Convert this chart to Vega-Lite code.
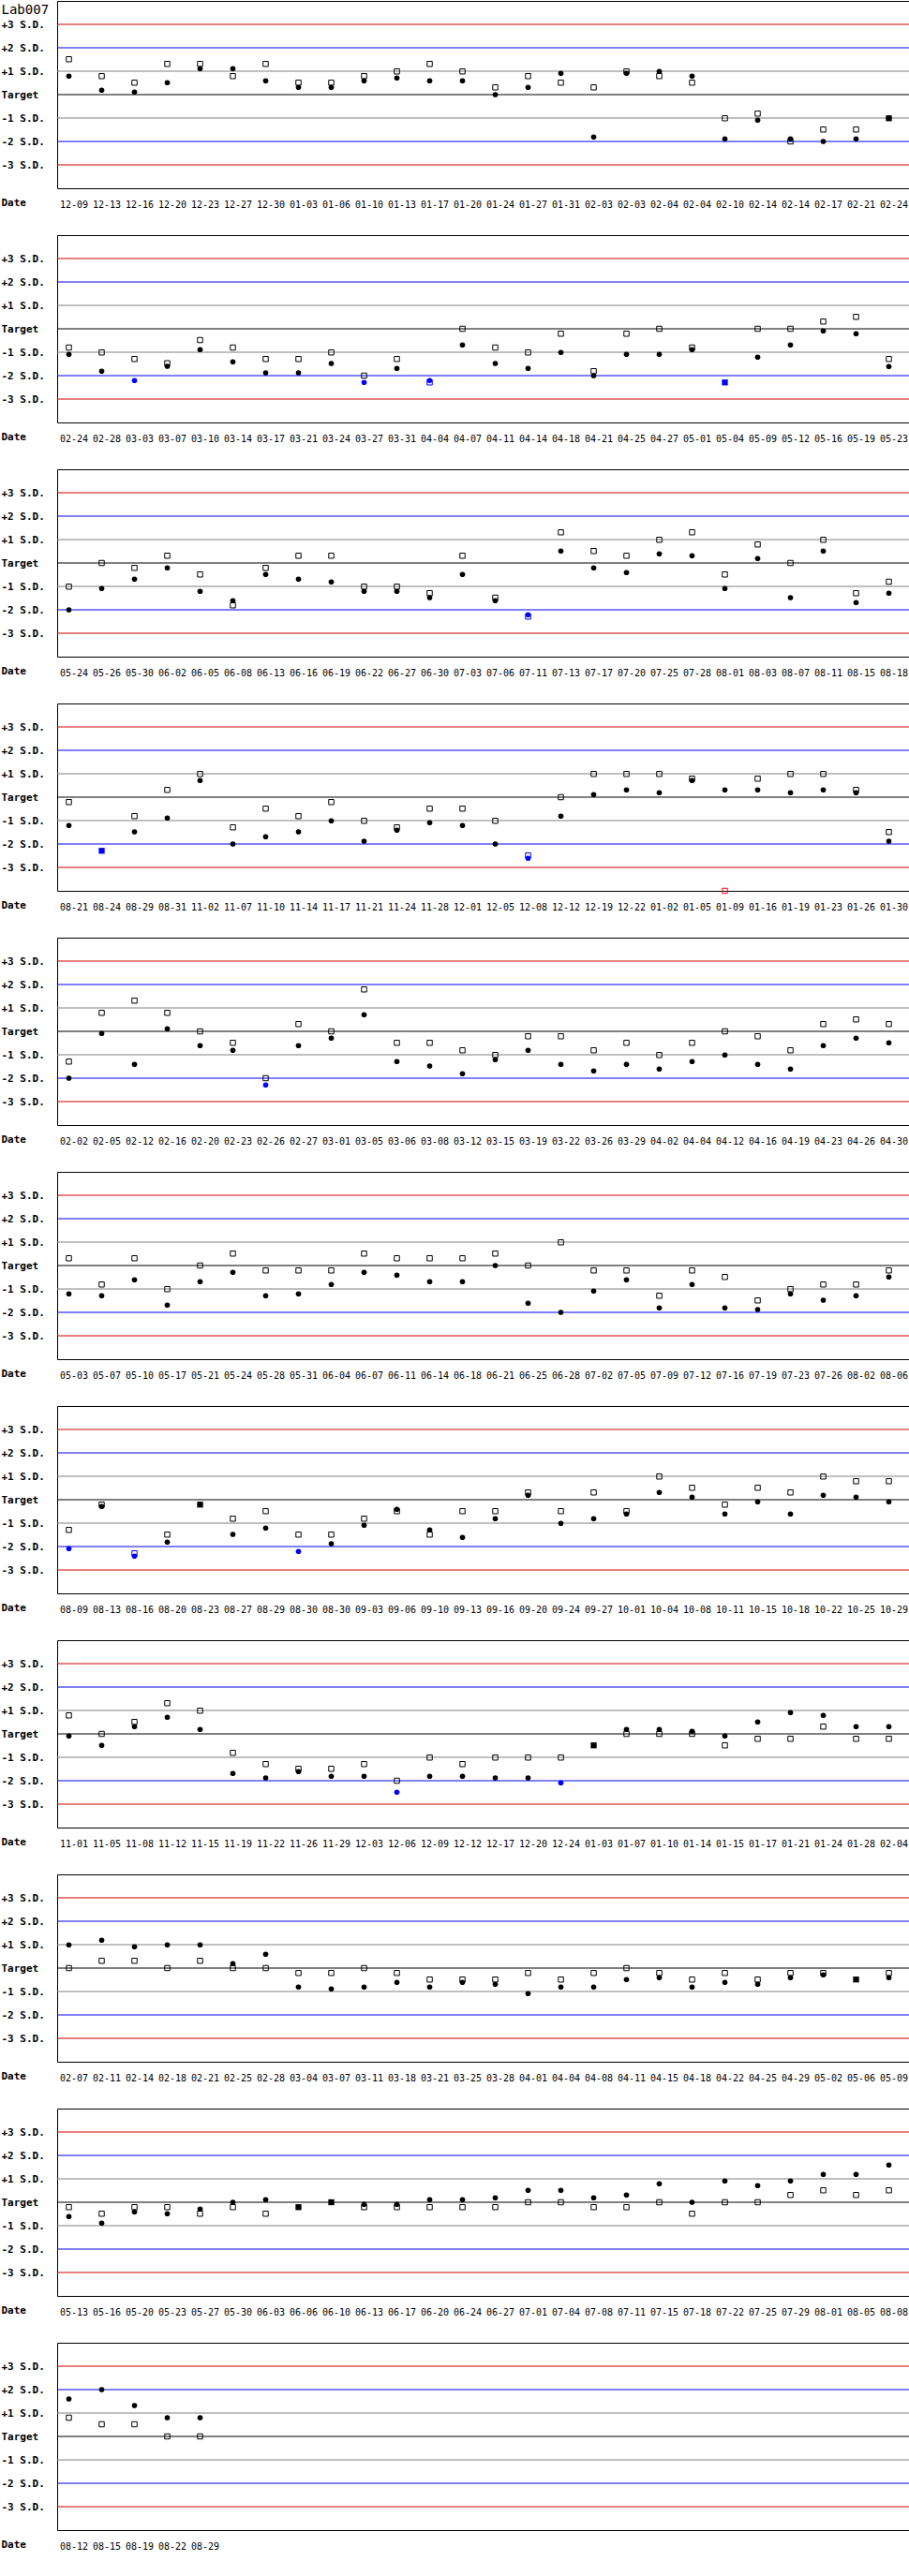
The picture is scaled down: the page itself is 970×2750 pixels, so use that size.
{
  "$schema": "https://vega.github.io/schema/vega-lite/v6.json",
  "background": "white",
  "padding": 0,
  "bounds": "flush",
  "spacing": 50,
  "config": {
    "view": {"stroke": "black", "strokeWidth": 1},
    "axisX": {
      "domain": false, "ticks": false, "tickSize": 0, "grid": false,
      "labelAngle": 0, "labelFont": "DejaVu Sans Mono", "labelFontSize": 10, "labelColor": "black",
      "labelPadding": 17, "labelBaseline": "middle", "labelOffset": 5, "labelOverlap": false,
      "titleX": -60, "titleY": 15, "titleAlign": "left", "titleBaseline": "middle",
      "titleFont": "DejaVu Sans Mono", "titleFontSize": 11, "titleFontWeight": "bold", "titleColor": "black"
    },
    "axisY": {
      "domain": false, "ticks": false, "tickSize": 0, "grid": false,
      "labelAlign": "left", "labelBaseline": "middle", "labelPadding": 60, "labelOverlap": false,
      "labelFont": "DejaVu Sans Mono", "labelFontSize": 11, "labelFontWeight": "bold", "labelColor": "black",
      "titleAngle": 0, "titleX": -60, "titleY": 2, "titleAlign": "left", "titleBaseline": "top",
      "titleFont": "DejaVu Sans Mono", "titleFontSize": 14, "titleFontWeight": "normal", "titleColor": "black"
    }
  },
  "datasets": {
    "levels": [{"sd": 3}, {"sd": 2}, {"sd": 1}, {"sd": 0}, {"sd": -1}, {"sd": -2}, {"sd": -3}],
    "qc": [
      {"p": 1, "i": 0, "d": "12-09", "s": "a", "v": 0.79}, {"p": 1, "i": 0, "d": "12-09", "s": "b", "v": 1.51},
      {"p": 1, "i": 1, "d": "12-13", "s": "a", "v": 0.19}, {"p": 1, "i": 1, "d": "12-13", "s": "b", "v": 0.79},
      {"p": 1, "i": 2, "d": "12-16", "s": "a", "v": 0.11}, {"p": 1, "i": 2, "d": "12-16", "s": "b", "v": 0.51},
      {"p": 1, "i": 3, "d": "12-20", "s": "a", "v": 0.51}, {"p": 1, "i": 3, "d": "12-20", "s": "b", "v": 1.31},
      {"p": 1, "i": 4, "d": "12-23", "s": "a", "v": 1.11}, {"p": 1, "i": 4, "d": "12-23", "s": "b", "v": 1.31},
      {"p": 1, "i": 5, "d": "12-27", "s": "a", "v": 1.11}, {"p": 1, "i": 5, "d": "12-27", "s": "b", "v": 0.79},
      {"p": 1, "i": 6, "d": "12-30", "s": "a", "v": 0.59}, {"p": 1, "i": 6, "d": "12-30", "s": "b", "v": 1.31},
      {"p": 1, "i": 7, "d": "01-03", "s": "a", "v": 0.31}, {"p": 1, "i": 7, "d": "01-03", "s": "b", "v": 0.51},
      {"p": 1, "i": 8, "d": "01-06", "s": "a", "v": 0.31}, {"p": 1, "i": 8, "d": "01-06", "s": "b", "v": 0.51},
      {"p": 1, "i": 9, "d": "01-10", "s": "a", "v": 0.59}, {"p": 1, "i": 9, "d": "01-10", "s": "b", "v": 0.79},
      {"p": 1, "i": 10, "d": "01-13", "s": "a", "v": 0.71}, {"p": 1, "i": 10, "d": "01-13", "s": "b", "v": 0.99},
      {"p": 1, "i": 11, "d": "01-17", "s": "a", "v": 0.59}, {"p": 1, "i": 11, "d": "01-17", "s": "b", "v": 1.31},
      {"p": 1, "i": 12, "d": "01-20", "s": "a", "v": 0.59}, {"p": 1, "i": 12, "d": "01-20", "s": "b", "v": 0.99},
      {"p": 1, "i": 13, "d": "01-24", "s": "a", "v": 0}, {"p": 1, "i": 13, "d": "01-24", "s": "b", "v": 0.31},
      {"p": 1, "i": 14, "d": "01-27", "s": "a", "v": 0.31}, {"p": 1, "i": 14, "d": "01-27", "s": "b", "v": 0.79},
      {"p": 1, "i": 15, "d": "01-31", "s": "a", "v": 0.91}, {"p": 1, "i": 15, "d": "01-31", "s": "b", "v": 0.51},
      {"p": 1, "i": 16, "d": "02-03", "s": "a", "v": -1.81}, {"p": 1, "i": 16, "d": "02-03", "s": "b", "v": 0.31},
      {"p": 1, "i": 17, "d": "02-03", "s": "a", "v": 0.91}, {"p": 1, "i": 17, "d": "02-03", "s": "b", "v": 0.99},
      {"p": 1, "i": 18, "d": "02-04", "s": "a", "v": 0.99}, {"p": 1, "i": 18, "d": "02-04", "s": "b", "v": 0.79},
      {"p": 1, "i": 19, "d": "02-04", "s": "a", "v": 0.79}, {"p": 1, "i": 19, "d": "02-04", "s": "b", "v": 0.51},
      {"p": 1, "i": 20, "d": "02-10", "s": "a", "v": -1.89}, {"p": 1, "i": 20, "d": "02-10", "s": "b", "v": -1.01},
      {"p": 1, "i": 21, "d": "02-14", "s": "a", "v": -1.09}, {"p": 1, "i": 21, "d": "02-14", "s": "b", "v": -0.81},
      {"p": 1, "i": 22, "d": "02-14", "s": "a", "v": -1.89}, {"p": 1, "i": 22, "d": "02-14", "s": "b", "v": -2.0},
      {"p": 1, "i": 23, "d": "02-17", "s": "a", "v": -2.0}, {"p": 1, "i": 23, "d": "02-17", "s": "b", "v": -1.49},
      {"p": 1, "i": 24, "d": "02-21", "s": "a", "v": -1.89}, {"p": 1, "i": 24, "d": "02-21", "s": "b", "v": -1.49},
      {"p": 1, "i": 25, "d": "02-24", "s": "c", "v": -1.01},

      {"p": 2, "i": 0, "d": "02-24", "s": "a", "v": -1.09}, {"p": 2, "i": 0, "d": "02-24", "s": "b", "v": -0.8},
      {"p": 2, "i": 1, "d": "02-28", "s": "a", "v": -1.81}, {"p": 2, "i": 1, "d": "02-28", "s": "b", "v": -1.01},
      {"p": 2, "i": 2, "d": "03-03", "s": "a", "v": -2.21}, {"p": 2, "i": 2, "d": "03-03", "s": "b", "v": -1.29},
      {"p": 2, "i": 3, "d": "03-07", "s": "a", "v": -1.6}, {"p": 2, "i": 3, "d": "03-07", "s": "b", "v": -1.47},
      {"p": 2, "i": 4, "d": "03-10", "s": "a", "v": -0.89}, {"p": 2, "i": 4, "d": "03-10", "s": "b", "v": -0.48},
      {"p": 2, "i": 5, "d": "03-14", "s": "a", "v": -1.41}, {"p": 2, "i": 5, "d": "03-14", "s": "b", "v": -0.8},
      {"p": 2, "i": 6, "d": "03-17", "s": "a", "v": -1.88}, {"p": 2, "i": 6, "d": "03-17", "s": "b", "v": -1.29},
      {"p": 2, "i": 7, "d": "03-21", "s": "a", "v": -1.88}, {"p": 2, "i": 7, "d": "03-21", "s": "b", "v": -1.29},
      {"p": 2, "i": 8, "d": "03-24", "s": "a", "v": -1.48}, {"p": 2, "i": 8, "d": "03-24", "s": "b", "v": -1.01},
      {"p": 2, "i": 9, "d": "03-27", "s": "a", "v": -2.29}, {"p": 2, "i": 9, "d": "03-27", "s": "b", "v": -2.0},
      {"p": 2, "i": 10, "d": "03-31", "s": "a", "v": -1.69}, {"p": 2, "i": 10, "d": "03-31", "s": "b", "v": -1.29},
      {"p": 2, "i": 11, "d": "04-04", "s": "a", "v": -2.21}, {"p": 2, "i": 11, "d": "04-04", "s": "b", "v": -2.29},
      {"p": 2, "i": 12, "d": "04-07", "s": "a", "v": -0.69}, {"p": 2, "i": 12, "d": "04-07", "s": "b", "v": 0},
      {"p": 2, "i": 13, "d": "04-11", "s": "a", "v": -1.48}, {"p": 2, "i": 13, "d": "04-11", "s": "b", "v": -0.8},
      {"p": 2, "i": 14, "d": "04-14", "s": "a", "v": -1.69}, {"p": 2, "i": 14, "d": "04-14", "s": "b", "v": -1.01},
      {"p": 2, "i": 15, "d": "04-18", "s": "a", "v": -1.01}, {"p": 2, "i": 15, "d": "04-18", "s": "b", "v": -0.21},
      {"p": 2, "i": 16, "d": "04-21", "s": "a", "v": -2.0}, {"p": 2, "i": 16, "d": "04-21", "s": "b", "v": -1.81},
      {"p": 2, "i": 17, "d": "04-25", "s": "a", "v": -1.09}, {"p": 2, "i": 17, "d": "04-25", "s": "b", "v": -0.21},
      {"p": 2, "i": 18, "d": "04-27", "s": "a", "v": -1.09}, {"p": 2, "i": 18, "d": "04-27", "s": "b", "v": 0},
      {"p": 2, "i": 19, "d": "05-01", "s": "a", "v": -0.89}, {"p": 2, "i": 19, "d": "05-01", "s": "b", "v": -0.8},
      {"p": 2, "i": 20, "d": "05-04", "s": "c", "v": -2.29},
      {"p": 2, "i": 21, "d": "05-09", "s": "a", "v": -1.21}, {"p": 2, "i": 21, "d": "05-09", "s": "b", "v": 0},
      {"p": 2, "i": 22, "d": "05-12", "s": "a", "v": -0.69}, {"p": 2, "i": 22, "d": "05-12", "s": "b", "v": 0},
      {"p": 2, "i": 23, "d": "05-16", "s": "a", "v": -0.09}, {"p": 2, "i": 23, "d": "05-16", "s": "b", "v": 0.31},
      {"p": 2, "i": 24, "d": "05-19", "s": "a", "v": -0.21}, {"p": 2, "i": 24, "d": "05-19", "s": "b", "v": 0.51},
      {"p": 2, "i": 25, "d": "05-23", "s": "a", "v": -1.61}, {"p": 2, "i": 25, "d": "05-23", "s": "b", "v": -1.29},

      {"p": 3, "i": 0, "d": "05-24", "s": "a", "v": -2.0}, {"p": 3, "i": 0, "d": "05-24", "s": "b", "v": -1.01},
      {"p": 3, "i": 1, "d": "05-26", "s": "a", "v": -1.09}, {"p": 3, "i": 1, "d": "05-26", "s": "b", "v": 0},
      {"p": 3, "i": 2, "d": "05-30", "s": "a", "v": -0.69}, {"p": 3, "i": 2, "d": "05-30", "s": "b", "v": -0.21},
      {"p": 3, "i": 3, "d": "06-02", "s": "a", "v": -0.21}, {"p": 3, "i": 3, "d": "06-02", "s": "b", "v": 0.31},
      {"p": 3, "i": 4, "d": "06-05", "s": "a", "v": -1.21}, {"p": 3, "i": 4, "d": "06-05", "s": "b", "v": -0.49},
      {"p": 3, "i": 5, "d": "06-08", "s": "a", "v": -1.61}, {"p": 3, "i": 5, "d": "06-08", "s": "b", "v": -1.81},
      {"p": 3, "i": 6, "d": "06-13", "s": "a", "v": -0.49}, {"p": 3, "i": 6, "d": "06-13", "s": "b", "v": -0.21},
      {"p": 3, "i": 7, "d": "06-16", "s": "a", "v": -0.69}, {"p": 3, "i": 7, "d": "06-16", "s": "b", "v": 0.31},
      {"p": 3, "i": 8, "d": "06-19", "s": "a", "v": -0.81}, {"p": 3, "i": 8, "d": "06-19", "s": "b", "v": 0.31},
      {"p": 3, "i": 9, "d": "06-22", "s": "a", "v": -1.21}, {"p": 3, "i": 9, "d": "06-22", "s": "b", "v": -1.01},
      {"p": 3, "i": 10, "d": "06-27", "s": "a", "v": -1.21}, {"p": 3, "i": 10, "d": "06-27", "s": "b", "v": -1.01},
      {"p": 3, "i": 11, "d": "06-30", "s": "a", "v": -1.48}, {"p": 3, "i": 11, "d": "06-30", "s": "b", "v": -1.29},
      {"p": 3, "i": 12, "d": "07-03", "s": "a", "v": -0.49}, {"p": 3, "i": 12, "d": "07-03", "s": "b", "v": 0.31},
      {"p": 3, "i": 13, "d": "07-06", "s": "a", "v": -1.61}, {"p": 3, "i": 13, "d": "07-06", "s": "b", "v": -1.48},
      {"p": 3, "i": 14, "d": "07-11", "s": "a", "v": -2.21}, {"p": 3, "i": 14, "d": "07-11", "s": "b", "v": -2.29},
      {"p": 3, "i": 15, "d": "07-13", "s": "a", "v": 0.51}, {"p": 3, "i": 15, "d": "07-13", "s": "b", "v": 1.31},
      {"p": 3, "i": 16, "d": "07-17", "s": "a", "v": -0.21}, {"p": 3, "i": 16, "d": "07-17", "s": "b", "v": 0.51},
      {"p": 3, "i": 17, "d": "07-20", "s": "a", "v": -0.41}, {"p": 3, "i": 17, "d": "07-20", "s": "b", "v": 0.31},
      {"p": 3, "i": 18, "d": "07-25", "s": "a", "v": 0.39}, {"p": 3, "i": 18, "d": "07-25", "s": "b", "v": 0.99},
      {"p": 3, "i": 19, "d": "07-28", "s": "a", "v": 0.31}, {"p": 3, "i": 19, "d": "07-28", "s": "b", "v": 1.31},
      {"p": 3, "i": 20, "d": "08-01", "s": "a", "v": -1.09}, {"p": 3, "i": 20, "d": "08-01", "s": "b", "v": -0.49},
      {"p": 3, "i": 21, "d": "08-03", "s": "a", "v": 0.19}, {"p": 3, "i": 21, "d": "08-03", "s": "b", "v": 0.79},
      {"p": 3, "i": 22, "d": "08-07", "s": "a", "v": -1.48}, {"p": 3, "i": 22, "d": "08-07", "s": "b", "v": 0},
      {"p": 3, "i": 23, "d": "08-11", "s": "a", "v": 0.51}, {"p": 3, "i": 23, "d": "08-11", "s": "b", "v": 0.99},
      {"p": 3, "i": 24, "d": "08-15", "s": "a", "v": -1.69}, {"p": 3, "i": 24, "d": "08-15", "s": "b", "v": -1.29},
      {"p": 3, "i": 25, "d": "08-18", "s": "a", "v": -1.29}, {"p": 3, "i": 25, "d": "08-18", "s": "b", "v": -0.8},

      {"p": 4, "i": 0, "d": "08-21", "s": "a", "v": -1.21}, {"p": 4, "i": 0, "d": "08-21", "s": "b", "v": -0.21},
      {"p": 4, "i": 1, "d": "08-24", "s": "c", "v": -2.29},
      {"p": 4, "i": 2, "d": "08-29", "s": "a", "v": -1.48}, {"p": 4, "i": 2, "d": "08-29", "s": "b", "v": -0.81},
      {"p": 4, "i": 3, "d": "08-31", "s": "a", "v": -0.89}, {"p": 4, "i": 3, "d": "08-31", "s": "b", "v": 0.31},
      {"p": 4, "i": 4, "d": "11-02", "s": "a", "v": 0.71}, {"p": 4, "i": 4, "d": "11-02", "s": "b", "v": 0.99},
      {"p": 4, "i": 5, "d": "11-07", "s": "a", "v": -2.0}, {"p": 4, "i": 5, "d": "11-07", "s": "b", "v": -1.29},
      {"p": 4, "i": 6, "d": "11-10", "s": "a", "v": -1.69}, {"p": 4, "i": 6, "d": "11-10", "s": "b", "v": -0.49},
      {"p": 4, "i": 7, "d": "11-14", "s": "a", "v": -1.48}, {"p": 4, "i": 7, "d": "11-14", "s": "b", "v": -0.81},
      {"p": 4, "i": 8, "d": "11-17", "s": "a", "v": -1.01}, {"p": 4, "i": 8, "d": "11-17", "s": "b", "v": -0.21},
      {"p": 4, "i": 9, "d": "11-21", "s": "a", "v": -1.88}, {"p": 4, "i": 9, "d": "11-21", "s": "b", "v": -1.01},
      {"p": 4, "i": 10, "d": "11-24", "s": "a", "v": -1.41}, {"p": 4, "i": 10, "d": "11-24", "s": "b", "v": -1.29},
      {"p": 4, "i": 11, "d": "11-28", "s": "a", "v": -1.09}, {"p": 4, "i": 11, "d": "11-28", "s": "b", "v": -0.49},
      {"p": 4, "i": 12, "d": "12-01", "s": "a", "v": -1.21}, {"p": 4, "i": 12, "d": "12-01", "s": "b", "v": -0.49},
      {"p": 4, "i": 13, "d": "12-05", "s": "a", "v": -2.0}, {"p": 4, "i": 13, "d": "12-05", "s": "b", "v": -1.01},
      {"p": 4, "i": 14, "d": "12-08", "s": "a", "v": -2.61}, {"p": 4, "i": 14, "d": "12-08", "s": "b", "v": -2.49},
      {"p": 4, "i": 15, "d": "12-12", "s": "a", "v": -0.81}, {"p": 4, "i": 15, "d": "12-12", "s": "b", "v": 0},
      {"p": 4, "i": 16, "d": "12-19", "s": "a", "v": 0.11}, {"p": 4, "i": 16, "d": "12-19", "s": "b", "v": 0.99},
      {"p": 4, "i": 17, "d": "12-22", "s": "a", "v": 0.31}, {"p": 4, "i": 17, "d": "12-22", "s": "b", "v": 0.99},
      {"p": 4, "i": 18, "d": "01-02", "s": "a", "v": 0.19}, {"p": 4, "i": 18, "d": "01-02", "s": "b", "v": 0.99},
      {"p": 4, "i": 19, "d": "01-05", "s": "a", "v": 0.71}, {"p": 4, "i": 19, "d": "01-05", "s": "b", "v": 0.79},
      {"p": 4, "i": 20, "d": "01-09", "s": "a", "v": 0.31}, {"p": 4, "i": 20, "d": "01-09", "s": "b", "v": -4.0},
      {"p": 4, "i": 21, "d": "01-16", "s": "a", "v": 0.31}, {"p": 4, "i": 21, "d": "01-16", "s": "b", "v": 0.79},
      {"p": 4, "i": 22, "d": "01-19", "s": "a", "v": 0.19}, {"p": 4, "i": 22, "d": "01-19", "s": "b", "v": 0.99},
      {"p": 4, "i": 23, "d": "01-23", "s": "a", "v": 0.31}, {"p": 4, "i": 23, "d": "01-23", "s": "b", "v": 0.99},
      {"p": 4, "i": 24, "d": "01-26", "s": "a", "v": 0.19}, {"p": 4, "i": 24, "d": "01-26", "s": "b", "v": 0.31},
      {"p": 4, "i": 25, "d": "01-30", "s": "a", "v": -1.88}, {"p": 4, "i": 25, "d": "01-30", "s": "b", "v": -1.49},

      {"p": 5, "i": 0, "d": "02-02", "s": "a", "v": -2.0}, {"p": 5, "i": 0, "d": "02-02", "s": "b", "v": -1.29},
      {"p": 5, "i": 1, "d": "02-05", "s": "a", "v": -0.09}, {"p": 5, "i": 1, "d": "02-05", "s": "b", "v": 0.79},
      {"p": 5, "i": 2, "d": "02-12", "s": "a", "v": -1.41}, {"p": 5, "i": 2, "d": "02-12", "s": "b", "v": 1.31},
      {"p": 5, "i": 3, "d": "02-16", "s": "a", "v": 0.11}, {"p": 5, "i": 3, "d": "02-16", "s": "b", "v": 0.79},
      {"p": 5, "i": 4, "d": "02-20", "s": "a", "v": -0.61}, {"p": 5, "i": 4, "d": "02-20", "s": "b", "v": 0},
      {"p": 5, "i": 5, "d": "02-23", "s": "a", "v": -0.81}, {"p": 5, "i": 5, "d": "02-23", "s": "b", "v": -0.49},
      {"p": 5, "i": 6, "d": "02-26", "s": "a", "v": -2.29}, {"p": 5, "i": 6, "d": "02-26", "s": "b", "v": -2.0},
      {"p": 5, "i": 7, "d": "02-27", "s": "a", "v": -0.61}, {"p": 5, "i": 7, "d": "02-27", "s": "b", "v": 0.31},
      {"p": 5, "i": 8, "d": "03-01", "s": "a", "v": -0.29}, {"p": 5, "i": 8, "d": "03-01", "s": "b", "v": 0},
      {"p": 5, "i": 9, "d": "03-05", "s": "a", "v": 0.71}, {"p": 5, "i": 9, "d": "03-05", "s": "b", "v": 1.79},
      {"p": 5, "i": 10, "d": "03-06", "s": "a", "v": -1.29}, {"p": 5, "i": 10, "d": "03-06", "s": "b", "v": -0.49},
      {"p": 5, "i": 11, "d": "03-08", "s": "a", "v": -1.48}, {"p": 5, "i": 11, "d": "03-08", "s": "b", "v": -0.49},
      {"p": 5, "i": 12, "d": "03-12", "s": "a", "v": -1.81}, {"p": 5, "i": 12, "d": "03-12", "s": "b", "v": -0.81},
      {"p": 5, "i": 13, "d": "03-15", "s": "a", "v": -1.21}, {"p": 5, "i": 13, "d": "03-15", "s": "b", "v": -1.01},
      {"p": 5, "i": 14, "d": "03-19", "s": "a", "v": -0.81}, {"p": 5, "i": 14, "d": "03-19", "s": "b", "v": -0.21},
      {"p": 5, "i": 15, "d": "03-22", "s": "a", "v": -1.41}, {"p": 5, "i": 15, "d": "03-22", "s": "b", "v": -0.21},
      {"p": 5, "i": 16, "d": "03-26", "s": "a", "v": -1.69}, {"p": 5, "i": 16, "d": "03-26", "s": "b", "v": -0.81},
      {"p": 5, "i": 17, "d": "03-29", "s": "a", "v": -1.41}, {"p": 5, "i": 17, "d": "03-29", "s": "b", "v": -0.49},
      {"p": 5, "i": 18, "d": "04-02", "s": "a", "v": -1.61}, {"p": 5, "i": 18, "d": "04-02", "s": "b", "v": -1.01},
      {"p": 5, "i": 19, "d": "04-04", "s": "a", "v": -1.29}, {"p": 5, "i": 19, "d": "04-04", "s": "b", "v": -0.49},
      {"p": 5, "i": 20, "d": "04-12", "s": "a", "v": -1.01}, {"p": 5, "i": 20, "d": "04-12", "s": "b", "v": 0},
      {"p": 5, "i": 21, "d": "04-16", "s": "a", "v": -1.41}, {"p": 5, "i": 21, "d": "04-16", "s": "b", "v": -0.21},
      {"p": 5, "i": 22, "d": "04-19", "s": "a", "v": -1.61}, {"p": 5, "i": 22, "d": "04-19", "s": "b", "v": -0.81},
      {"p": 5, "i": 23, "d": "04-23", "s": "a", "v": -0.61}, {"p": 5, "i": 23, "d": "04-23", "s": "b", "v": 0.31},
      {"p": 5, "i": 24, "d": "04-26", "s": "a", "v": -0.29}, {"p": 5, "i": 24, "d": "04-26", "s": "b", "v": 0.51},
      {"p": 5, "i": 25, "d": "04-30", "s": "a", "v": -0.49}, {"p": 5, "i": 25, "d": "04-30", "s": "b", "v": 0.31},

      {"p": 6, "i": 0, "d": "05-03", "s": "a", "v": -1.21}, {"p": 6, "i": 0, "d": "05-03", "s": "b", "v": 0.31},
      {"p": 6, "i": 1, "d": "05-07", "s": "a", "v": -1.29}, {"p": 6, "i": 1, "d": "05-07", "s": "b", "v": -0.81},
      {"p": 6, "i": 2, "d": "05-10", "s": "a", "v": -0.61}, {"p": 6, "i": 2, "d": "05-10", "s": "b", "v": 0.31},
      {"p": 6, "i": 3, "d": "05-17", "s": "a", "v": -1.69}, {"p": 6, "i": 3, "d": "05-17", "s": "b", "v": -1.01},
      {"p": 6, "i": 4, "d": "05-21", "s": "a", "v": -0.69}, {"p": 6, "i": 4, "d": "05-21", "s": "b", "v": 0},
      {"p": 6, "i": 5, "d": "05-24", "s": "a", "v": -0.29}, {"p": 6, "i": 5, "d": "05-24", "s": "b", "v": 0.51},
      {"p": 6, "i": 6, "d": "05-28", "s": "a", "v": -1.29}, {"p": 6, "i": 6, "d": "05-28", "s": "b", "v": -0.21},
      {"p": 6, "i": 7, "d": "05-31", "s": "a", "v": -1.21}, {"p": 6, "i": 7, "d": "05-31", "s": "b", "v": -0.21},
      {"p": 6, "i": 8, "d": "06-04", "s": "a", "v": -0.81}, {"p": 6, "i": 8, "d": "06-04", "s": "b", "v": -0.21},
      {"p": 6, "i": 9, "d": "06-07", "s": "a", "v": -0.29}, {"p": 6, "i": 9, "d": "06-07", "s": "b", "v": 0.51},
      {"p": 6, "i": 10, "d": "06-11", "s": "a", "v": -0.41}, {"p": 6, "i": 10, "d": "06-11", "s": "b", "v": 0.31},
      {"p": 6, "i": 11, "d": "06-14", "s": "a", "v": -0.69}, {"p": 6, "i": 11, "d": "06-14", "s": "b", "v": 0.31},
      {"p": 6, "i": 12, "d": "06-18", "s": "a", "v": -0.69}, {"p": 6, "i": 12, "d": "06-18", "s": "b", "v": 0.31},
      {"p": 6, "i": 13, "d": "06-21", "s": "a", "v": 0}, {"p": 6, "i": 13, "d": "06-21", "s": "b", "v": 0.51},
      {"p": 6, "i": 14, "d": "06-25", "s": "a", "v": -1.61}, {"p": 6, "i": 14, "d": "06-25", "s": "b", "v": 0},
      {"p": 6, "i": 15, "d": "06-28", "s": "a", "v": -2.0}, {"p": 6, "i": 15, "d": "06-28", "s": "b", "v": 0.99},
      {"p": 6, "i": 16, "d": "07-02", "s": "a", "v": -1.09}, {"p": 6, "i": 16, "d": "07-02", "s": "b", "v": -0.21},
      {"p": 6, "i": 17, "d": "07-05", "s": "a", "v": -0.61}, {"p": 6, "i": 17, "d": "07-05", "s": "b", "v": -0.21},
      {"p": 6, "i": 18, "d": "07-09", "s": "a", "v": -1.81}, {"p": 6, "i": 18, "d": "07-09", "s": "b", "v": -1.29},
      {"p": 6, "i": 19, "d": "07-12", "s": "a", "v": -0.81}, {"p": 6, "i": 19, "d": "07-12", "s": "b", "v": -0.21},
      {"p": 6, "i": 20, "d": "07-16", "s": "a", "v": -1.81}, {"p": 6, "i": 20, "d": "07-16", "s": "b", "v": -0.49},
      {"p": 6, "i": 21, "d": "07-19", "s": "a", "v": -1.88}, {"p": 6, "i": 21, "d": "07-19", "s": "b", "v": -1.49},
      {"p": 6, "i": 22, "d": "07-23", "s": "a", "v": -1.21}, {"p": 6, "i": 22, "d": "07-23", "s": "b", "v": -1.01},
      {"p": 6, "i": 23, "d": "07-26", "s": "a", "v": -1.48}, {"p": 6, "i": 23, "d": "07-26", "s": "b", "v": -0.81},
      {"p": 6, "i": 24, "d": "08-02", "s": "a", "v": -1.29}, {"p": 6, "i": 24, "d": "08-02", "s": "b", "v": -0.81},
      {"p": 6, "i": 25, "d": "08-06", "s": "a", "v": -0.49}, {"p": 6, "i": 25, "d": "08-06", "s": "b", "v": -0.21},

      {"p": 7, "i": 0, "d": "08-09", "s": "a", "v": -2.09}, {"p": 7, "i": 0, "d": "08-09", "s": "b", "v": -1.29},
      {"p": 7, "i": 1, "d": "08-13", "s": "a", "v": -0.29}, {"p": 7, "i": 1, "d": "08-13", "s": "b", "v": -0.21},
      {"p": 7, "i": 2, "d": "08-16", "s": "a", "v": -2.41}, {"p": 7, "i": 2, "d": "08-16", "s": "b", "v": -2.29},
      {"p": 7, "i": 3, "d": "08-20", "s": "a", "v": -1.81}, {"p": 7, "i": 3, "d": "08-20", "s": "b", "v": -1.49},
      {"p": 7, "i": 4, "d": "08-23", "s": "c", "v": -0.21},
      {"p": 7, "i": 5, "d": "08-27", "s": "a", "v": -1.48}, {"p": 7, "i": 5, "d": "08-27", "s": "b", "v": -0.81},
      {"p": 7, "i": 6, "d": "08-29", "s": "a", "v": -1.21}, {"p": 7, "i": 6, "d": "08-29", "s": "b", "v": -0.49},
      {"p": 7, "i": 7, "d": "08-30", "s": "a", "v": -2.21}, {"p": 7, "i": 7, "d": "08-30", "s": "b", "v": -1.49},
      {"p": 7, "i": 8, "d": "08-30", "s": "a", "v": -1.88}, {"p": 7, "i": 8, "d": "08-30", "s": "b", "v": -1.49},
      {"p": 7, "i": 9, "d": "09-03", "s": "a", "v": -1.09}, {"p": 7, "i": 9, "d": "09-03", "s": "b", "v": -0.81},
      {"p": 7, "i": 10, "d": "09-06", "s": "a", "v": -0.41}, {"p": 7, "i": 10, "d": "09-06", "s": "b", "v": -0.49},
      {"p": 7, "i": 11, "d": "09-10", "s": "a", "v": -1.29}, {"p": 7, "i": 11, "d": "09-10", "s": "b", "v": -1.49},
      {"p": 7, "i": 12, "d": "09-13", "s": "a", "v": -1.61}, {"p": 7, "i": 12, "d": "09-13", "s": "b", "v": -0.49},
      {"p": 7, "i": 13, "d": "09-16", "s": "a", "v": -0.81}, {"p": 7, "i": 13, "d": "09-16", "s": "b", "v": -0.49},
      {"p": 7, "i": 14, "d": "09-20", "s": "a", "v": 0.19}, {"p": 7, "i": 14, "d": "09-20", "s": "b", "v": 0.31},
      {"p": 7, "i": 15, "d": "09-24", "s": "a", "v": -1.01}, {"p": 7, "i": 15, "d": "09-24", "s": "b", "v": -0.49},
      {"p": 7, "i": 16, "d": "09-27", "s": "a", "v": -0.81}, {"p": 7, "i": 16, "d": "09-27", "s": "b", "v": 0.31},
      {"p": 7, "i": 17, "d": "10-01", "s": "a", "v": -0.61}, {"p": 7, "i": 17, "d": "10-01", "s": "b", "v": -0.49},
      {"p": 7, "i": 18, "d": "10-04", "s": "a", "v": 0.31}, {"p": 7, "i": 18, "d": "10-04", "s": "b", "v": 0.99},
      {"p": 7, "i": 19, "d": "10-08", "s": "a", "v": 0.11}, {"p": 7, "i": 19, "d": "10-08", "s": "b", "v": 0.51},
      {"p": 7, "i": 20, "d": "10-11", "s": "a", "v": -0.61}, {"p": 7, "i": 20, "d": "10-11", "s": "b", "v": -0.21},
      {"p": 7, "i": 21, "d": "10-15", "s": "a", "v": -0.09}, {"p": 7, "i": 21, "d": "10-15", "s": "b", "v": 0.51},
      {"p": 7, "i": 22, "d": "10-18", "s": "a", "v": -0.61}, {"p": 7, "i": 22, "d": "10-18", "s": "b", "v": 0.31},
      {"p": 7, "i": 23, "d": "10-22", "s": "a", "v": 0.19}, {"p": 7, "i": 23, "d": "10-22", "s": "b", "v": 0.99},
      {"p": 7, "i": 24, "d": "10-25", "s": "a", "v": 0.11}, {"p": 7, "i": 24, "d": "10-25", "s": "b", "v": 0.79},
      {"p": 7, "i": 25, "d": "10-29", "s": "a", "v": -0.09}, {"p": 7, "i": 25, "d": "10-29", "s": "b", "v": 0.79},

      {"p": 8, "i": 0, "d": "11-01", "s": "a", "v": -0.09}, {"p": 8, "i": 0, "d": "11-01", "s": "b", "v": 0.79},
      {"p": 8, "i": 1, "d": "11-05", "s": "a", "v": -0.49}, {"p": 8, "i": 1, "d": "11-05", "s": "b", "v": 0},
      {"p": 8, "i": 2, "d": "11-08", "s": "a", "v": 0.31}, {"p": 8, "i": 2, "d": "11-08", "s": "b", "v": 0.51},
      {"p": 8, "i": 3, "d": "11-12", "s": "a", "v": 0.71}, {"p": 8, "i": 3, "d": "11-12", "s": "b", "v": 1.31},
      {"p": 8, "i": 4, "d": "11-15", "s": "a", "v": 0.19}, {"p": 8, "i": 4, "d": "11-15", "s": "b", "v": 0.99},
      {"p": 8, "i": 5, "d": "11-19", "s": "a", "v": -1.69}, {"p": 8, "i": 5, "d": "11-19", "s": "b", "v": -0.81},
      {"p": 8, "i": 6, "d": "11-22", "s": "a", "v": -1.88}, {"p": 8, "i": 6, "d": "11-22", "s": "b", "v": -1.29},
      {"p": 8, "i": 7, "d": "11-26", "s": "a", "v": -1.61}, {"p": 8, "i": 7, "d": "11-26", "s": "b", "v": -1.49},
      {"p": 8, "i": 8, "d": "11-29", "s": "a", "v": -1.81}, {"p": 8, "i": 8, "d": "11-29", "s": "b", "v": -1.49},
      {"p": 8, "i": 9, "d": "12-03", "s": "a", "v": -1.81}, {"p": 8, "i": 9, "d": "12-03", "s": "b", "v": -1.29},
      {"p": 8, "i": 10, "d": "12-06", "s": "a", "v": -2.49}, {"p": 8, "i": 10, "d": "12-06", "s": "b", "v": -2.0},
      {"p": 8, "i": 11, "d": "12-09", "s": "a", "v": -1.81}, {"p": 8, "i": 11, "d": "12-09", "s": "b", "v": -1.01},
      {"p": 8, "i": 12, "d": "12-12", "s": "a", "v": -1.81}, {"p": 8, "i": 12, "d": "12-12", "s": "b", "v": -1.29},
      {"p": 8, "i": 13, "d": "12-17", "s": "a", "v": -1.88}, {"p": 8, "i": 13, "d": "12-17", "s": "b", "v": -1.01},
      {"p": 8, "i": 14, "d": "12-20", "s": "a", "v": -1.88}, {"p": 8, "i": 14, "d": "12-20", "s": "b", "v": -1.01},
      {"p": 8, "i": 15, "d": "12-24", "s": "a", "v": -2.09}, {"p": 8, "i": 15, "d": "12-24", "s": "b", "v": -1.01},
      {"p": 8, "i": 16, "d": "01-03", "s": "c", "v": -0.49},
      {"p": 8, "i": 17, "d": "01-07", "s": "a", "v": 0.19}, {"p": 8, "i": 17, "d": "01-07", "s": "b", "v": 0},
      {"p": 8, "i": 18, "d": "01-10", "s": "a", "v": 0.19}, {"p": 8, "i": 18, "d": "01-10", "s": "b", "v": 0},
      {"p": 8, "i": 19, "d": "01-14", "s": "a", "v": 0.11}, {"p": 8, "i": 19, "d": "01-14", "s": "b", "v": 0},
      {"p": 8, "i": 20, "d": "01-15", "s": "a", "v": -0.09}, {"p": 8, "i": 20, "d": "01-15", "s": "b", "v": -0.49},
      {"p": 8, "i": 21, "d": "01-17", "s": "a", "v": 0.51}, {"p": 8, "i": 21, "d": "01-17", "s": "b", "v": -0.21},
      {"p": 8, "i": 22, "d": "01-21", "s": "a", "v": 0.91}, {"p": 8, "i": 22, "d": "01-21", "s": "b", "v": -0.21},
      {"p": 8, "i": 23, "d": "01-24", "s": "a", "v": 0.79}, {"p": 8, "i": 23, "d": "01-24", "s": "b", "v": 0.31},
      {"p": 8, "i": 24, "d": "01-28", "s": "a", "v": 0.31}, {"p": 8, "i": 24, "d": "01-28", "s": "b", "v": -0.21},
      {"p": 8, "i": 25, "d": "02-04", "s": "a", "v": 0.31}, {"p": 8, "i": 25, "d": "02-04", "s": "b", "v": -0.21},

      {"p": 9, "i": 0, "d": "02-07", "s": "a", "v": 0.99}, {"p": 9, "i": 0, "d": "02-07", "s": "b", "v": 0},
      {"p": 9, "i": 1, "d": "02-11", "s": "a", "v": 1.19}, {"p": 9, "i": 1, "d": "02-11", "s": "b", "v": 0.31},
      {"p": 9, "i": 2, "d": "02-14", "s": "a", "v": 0.91}, {"p": 9, "i": 2, "d": "02-14", "s": "b", "v": 0.31},
      {"p": 9, "i": 3, "d": "02-18", "s": "a", "v": 0.99}, {"p": 9, "i": 3, "d": "02-18", "s": "b", "v": 0},
      {"p": 9, "i": 4, "d": "02-21", "s": "a", "v": 0.99}, {"p": 9, "i": 4, "d": "02-21", "s": "b", "v": 0.31},
      {"p": 9, "i": 5, "d": "02-25", "s": "a", "v": 0.19}, {"p": 9, "i": 5, "d": "02-25", "s": "b", "v": 0},
      {"p": 9, "i": 6, "d": "02-28", "s": "a", "v": 0.59}, {"p": 9, "i": 6, "d": "02-28", "s": "b", "v": 0},
      {"p": 9, "i": 7, "d": "03-04", "s": "a", "v": -0.81}, {"p": 9, "i": 7, "d": "03-04", "s": "b", "v": -0.21},
      {"p": 9, "i": 8, "d": "03-07", "s": "a", "v": -0.89}, {"p": 9, "i": 8, "d": "03-07", "s": "b", "v": -0.21},
      {"p": 9, "i": 9, "d": "03-11", "s": "a", "v": -0.81}, {"p": 9, "i": 9, "d": "03-11", "s": "b", "v": 0},
      {"p": 9, "i": 10, "d": "03-18", "s": "a", "v": -0.61}, {"p": 9, "i": 10, "d": "03-18", "s": "b", "v": -0.21},
      {"p": 9, "i": 11, "d": "03-21", "s": "a", "v": -0.81}, {"p": 9, "i": 11, "d": "03-21", "s": "b", "v": -0.49},
      {"p": 9, "i": 12, "d": "03-25", "s": "a", "v": -0.61}, {"p": 9, "i": 12, "d": "03-25", "s": "b", "v": -0.49},
      {"p": 9, "i": 13, "d": "03-28", "s": "a", "v": -0.69}, {"p": 9, "i": 13, "d": "03-28", "s": "b", "v": -0.49},
      {"p": 9, "i": 14, "d": "04-01", "s": "a", "v": -1.09}, {"p": 9, "i": 14, "d": "04-01", "s": "b", "v": -0.21},
      {"p": 9, "i": 15, "d": "04-04", "s": "a", "v": -0.81}, {"p": 9, "i": 15, "d": "04-04", "s": "b", "v": -0.49},
      {"p": 9, "i": 16, "d": "04-08", "s": "a", "v": -0.81}, {"p": 9, "i": 16, "d": "04-08", "s": "b", "v": -0.21},
      {"p": 9, "i": 17, "d": "04-11", "s": "a", "v": -0.49}, {"p": 9, "i": 17, "d": "04-11", "s": "b", "v": 0},
      {"p": 9, "i": 18, "d": "04-15", "s": "a", "v": -0.41}, {"p": 9, "i": 18, "d": "04-15", "s": "b", "v": -0.21},
      {"p": 9, "i": 19, "d": "04-18", "s": "a", "v": -0.81}, {"p": 9, "i": 19, "d": "04-18", "s": "b", "v": -0.49},
      {"p": 9, "i": 20, "d": "04-22", "s": "a", "v": -0.61}, {"p": 9, "i": 20, "d": "04-22", "s": "b", "v": -0.21},
      {"p": 9, "i": 21, "d": "04-25", "s": "a", "v": -0.69}, {"p": 9, "i": 21, "d": "04-25", "s": "b", "v": -0.49},
      {"p": 9, "i": 22, "d": "04-29", "s": "a", "v": -0.41}, {"p": 9, "i": 22, "d": "04-29", "s": "b", "v": -0.21},
      {"p": 9, "i": 23, "d": "05-02", "s": "a", "v": -0.29}, {"p": 9, "i": 23, "d": "05-02", "s": "b", "v": -0.21},
      {"p": 9, "i": 24, "d": "05-06", "s": "c", "v": -0.49},
      {"p": 9, "i": 25, "d": "05-09", "s": "a", "v": -0.41}, {"p": 9, "i": 25, "d": "05-09", "s": "b", "v": -0.21},

      {"p": 10, "i": 0, "d": "05-13", "s": "a", "v": -0.61}, {"p": 10, "i": 0, "d": "05-13", "s": "b", "v": -0.21},
      {"p": 10, "i": 1, "d": "05-16", "s": "a", "v": -0.89}, {"p": 10, "i": 1, "d": "05-16", "s": "b", "v": -0.49},
      {"p": 10, "i": 2, "d": "05-20", "s": "a", "v": -0.41}, {"p": 10, "i": 2, "d": "05-20", "s": "b", "v": -0.21},
      {"p": 10, "i": 3, "d": "05-23", "s": "a", "v": -0.49}, {"p": 10, "i": 3, "d": "05-23", "s": "b", "v": -0.21},
      {"p": 10, "i": 4, "d": "05-27", "s": "a", "v": -0.29}, {"p": 10, "i": 4, "d": "05-27", "s": "b", "v": -0.49},
      {"p": 10, "i": 5, "d": "05-30", "s": "a", "v": 0}, {"p": 10, "i": 5, "d": "05-30", "s": "b", "v": -0.21},
      {"p": 10, "i": 6, "d": "06-03", "s": "a", "v": 0.11}, {"p": 10, "i": 6, "d": "06-03", "s": "b", "v": -0.49},
      {"p": 10, "i": 7, "d": "06-06", "s": "c", "v": -0.21},
      {"p": 10, "i": 8, "d": "06-10", "s": "c", "v": 0},
      {"p": 10, "i": 9, "d": "06-13", "s": "a", "v": -0.09}, {"p": 10, "i": 9, "d": "06-13", "s": "b", "v": -0.21},
      {"p": 10, "i": 10, "d": "06-17", "s": "a", "v": -0.09}, {"p": 10, "i": 10, "d": "06-17", "s": "b", "v": -0.21},
      {"p": 10, "i": 11, "d": "06-20", "s": "a", "v": 0.11}, {"p": 10, "i": 11, "d": "06-20", "s": "b", "v": -0.21},
      {"p": 10, "i": 12, "d": "06-24", "s": "a", "v": 0.11}, {"p": 10, "i": 12, "d": "06-24", "s": "b", "v": -0.21},
      {"p": 10, "i": 13, "d": "06-27", "s": "a", "v": 0.19}, {"p": 10, "i": 13, "d": "06-27", "s": "b", "v": -0.21},
      {"p": 10, "i": 14, "d": "07-01", "s": "a", "v": 0.51}, {"p": 10, "i": 14, "d": "07-01", "s": "b", "v": 0},
      {"p": 10, "i": 15, "d": "07-04", "s": "a", "v": 0.51}, {"p": 10, "i": 15, "d": "07-04", "s": "b", "v": 0},
      {"p": 10, "i": 16, "d": "07-08", "s": "a", "v": 0.19}, {"p": 10, "i": 16, "d": "07-08", "s": "b", "v": -0.21},
      {"p": 10, "i": 17, "d": "07-11", "s": "a", "v": 0.31}, {"p": 10, "i": 17, "d": "07-11", "s": "b", "v": -0.21},
      {"p": 10, "i": 18, "d": "07-15", "s": "a", "v": 0.79}, {"p": 10, "i": 18, "d": "07-15", "s": "b", "v": 0},
      {"p": 10, "i": 19, "d": "07-18", "s": "a", "v": 0}, {"p": 10, "i": 19, "d": "07-18", "s": "b", "v": -0.49},
      {"p": 10, "i": 20, "d": "07-22", "s": "a", "v": 0.91}, {"p": 10, "i": 20, "d": "07-22", "s": "b", "v": 0},
      {"p": 10, "i": 21, "d": "07-25", "s": "a", "v": 0.71}, {"p": 10, "i": 21, "d": "07-25", "s": "b", "v": 0},
      {"p": 10, "i": 22, "d": "07-29", "s": "a", "v": 0.91}, {"p": 10, "i": 22, "d": "07-29", "s": "b", "v": 0.31},
      {"p": 10, "i": 23, "d": "08-01", "s": "a", "v": 1.19}, {"p": 10, "i": 23, "d": "08-01", "s": "b", "v": 0.51},
      {"p": 10, "i": 24, "d": "08-05", "s": "a", "v": 1.19}, {"p": 10, "i": 24, "d": "08-05", "s": "b", "v": 0.31},
      {"p": 10, "i": 25, "d": "08-08", "s": "a", "v": 1.59}, {"p": 10, "i": 25, "d": "08-08", "s": "b", "v": 0.51},

      {"p": 11, "i": 0, "d": "08-12", "s": "a", "v": 1.6}, {"p": 11, "i": 0, "d": "08-12", "s": "b", "v": 0.8},
      {"p": 11, "i": 1, "d": "08-15", "s": "a", "v": 2.0}, {"p": 11, "i": 1, "d": "08-15", "s": "b", "v": 0.52},
      {"p": 11, "i": 2, "d": "08-19", "s": "a", "v": 1.32}, {"p": 11, "i": 2, "d": "08-19", "s": "b", "v": 0.52},
      {"p": 11, "i": 3, "d": "08-22", "s": "a", "v": 0.8}, {"p": 11, "i": 3, "d": "08-22", "s": "b", "v": 0},
      {"p": 11, "i": 4, "d": "08-29", "s": "a", "v": 0.8}, {"p": 11, "i": 4, "d": "08-29", "s": "b", "v": 0}
    ]
  },
  "vconcat": [
    {
      "width": 909, "height": 200,
      "layer": [
        {"data": {"name": "levels"}, "mark": {"type": "rule", "strokeWidth": 1},
         "encoding": {"y": {"field": "sd", "type": "quantitative", "scale": {"domain": [-4, 4], "nice": false, "zero": false}, "axis": {"title": "Lab007", "values": [3, 2, 1, 0, -1, -2, -3], "labelExpr": "datum.value == 0 ? 'Target' : (datum.value > 0 ? '+' : '') + datum.value + ' S.D.'"}},
                      "stroke": {"field": "sd", "type": "ordinal", "scale": {"domain": [3, 2, 1, 0, -1, -2, -3], "range": ["#d00000", "#0000f0", "#808080", "#000000", "#808080", "#0000f0", "#d00000"]}, "legend": null}}},
        {"data": {"name": "qc"},
         "transform": [{"filter": "datum.p == 1"}, {"calculate": "(datum.i < 10 ? '0' : '') + datum.i + '|' + datum.d", "as": "k"}],
         "encoding": {
           "x": {"field": "k", "type": "nominal", "scale": {"type": "point", "padding": 0.4857, "align": 0.368}, "axis": {"title": "Date", "labelExpr": "split(datum.label, '|')[1]"}},
           "y": {"field": "v", "type": "quantitative", "scale": {"domain": [-4, 4], "nice": false, "zero": false}, "axis": {"title": "Lab007", "values": [3, 2, 1, 0, -1, -2, -3], "labelExpr": "datum.value == 0 ? 'Target' : (datum.value > 0 ? '+' : '') + datum.value + ' S.D.'"}},
           "color": {"field": "v", "type": "quantitative", "scale": {"type": "threshold", "domain": [-3, -2, 2.01, 3], "range": ["#ff0000", "#0000ff", "#000000", "#0000ff", "#ff0000"]}, "legend": null}
         },
         "layer": [
           {"transform": [{"filter": "datum.s == 'b'"}], "mark": {"type": "point", "shape": "square", "filled": false, "size": 30, "strokeWidth": 1, "opacity": 1}},
           {"transform": [{"filter": "datum.s == 'a'"}], "mark": {"type": "point", "shape": "circle", "filled": true, "size": 32, "opacity": 1}},
           {"transform": [{"filter": "datum.s == 'c'"}], "mark": {"type": "point", "shape": "square", "filled": true, "size": 40, "opacity": 1}}
         ]}
      ]
    },
    {
      "width": 909, "height": 200,
      "layer": [
        {"data": {"name": "levels"}, "mark": {"type": "rule", "strokeWidth": 1},
         "encoding": {"y": {"field": "sd", "type": "quantitative", "scale": {"domain": [-4, 4], "nice": false, "zero": false}, "axis": {"title": null, "values": [3, 2, 1, 0, -1, -2, -3], "labelExpr": "datum.value == 0 ? 'Target' : (datum.value > 0 ? '+' : '') + datum.value + ' S.D.'"}},
                      "stroke": {"field": "sd", "type": "ordinal", "scale": {"domain": [3, 2, 1, 0, -1, -2, -3], "range": ["#d00000", "#0000f0", "#808080", "#000000", "#808080", "#0000f0", "#d00000"]}, "legend": null}}},
        {"data": {"name": "qc"},
         "transform": [{"filter": "datum.p == 2"}, {"calculate": "(datum.i < 10 ? '0' : '') + datum.i + '|' + datum.d", "as": "k"}],
         "encoding": {
           "x": {"field": "k", "type": "nominal", "scale": {"type": "point", "padding": 0.4857, "align": 0.368}, "axis": {"title": "Date", "labelExpr": "split(datum.label, '|')[1]"}},
           "y": {"field": "v", "type": "quantitative", "scale": {"domain": [-4, 4], "nice": false, "zero": false}, "axis": {"title": null, "values": [3, 2, 1, 0, -1, -2, -3], "labelExpr": "datum.value == 0 ? 'Target' : (datum.value > 0 ? '+' : '') + datum.value + ' S.D.'"}},
           "color": {"field": "v", "type": "quantitative", "scale": {"type": "threshold", "domain": [-3, -2, 2.01, 3], "range": ["#ff0000", "#0000ff", "#000000", "#0000ff", "#ff0000"]}, "legend": null}
         },
         "layer": [
           {"transform": [{"filter": "datum.s == 'b'"}], "mark": {"type": "point", "shape": "square", "filled": false, "size": 30, "strokeWidth": 1, "opacity": 1}},
           {"transform": [{"filter": "datum.s == 'a'"}], "mark": {"type": "point", "shape": "circle", "filled": true, "size": 32, "opacity": 1}},
           {"transform": [{"filter": "datum.s == 'c'"}], "mark": {"type": "point", "shape": "square", "filled": true, "size": 40, "opacity": 1}}
         ]}
      ]
    },
    {
      "width": 909, "height": 200,
      "layer": [
        {"data": {"name": "levels"}, "mark": {"type": "rule", "strokeWidth": 1},
         "encoding": {"y": {"field": "sd", "type": "quantitative", "scale": {"domain": [-4, 4], "nice": false, "zero": false}, "axis": {"title": null, "values": [3, 2, 1, 0, -1, -2, -3], "labelExpr": "datum.value == 0 ? 'Target' : (datum.value > 0 ? '+' : '') + datum.value + ' S.D.'"}},
                      "stroke": {"field": "sd", "type": "ordinal", "scale": {"domain": [3, 2, 1, 0, -1, -2, -3], "range": ["#d00000", "#0000f0", "#808080", "#000000", "#808080", "#0000f0", "#d00000"]}, "legend": null}}},
        {"data": {"name": "qc"},
         "transform": [{"filter": "datum.p == 3"}, {"calculate": "(datum.i < 10 ? '0' : '') + datum.i + '|' + datum.d", "as": "k"}],
         "encoding": {
           "x": {"field": "k", "type": "nominal", "scale": {"type": "point", "padding": 0.4857, "align": 0.368}, "axis": {"title": "Date", "labelExpr": "split(datum.label, '|')[1]"}},
           "y": {"field": "v", "type": "quantitative", "scale": {"domain": [-4, 4], "nice": false, "zero": false}, "axis": {"title": null, "values": [3, 2, 1, 0, -1, -2, -3], "labelExpr": "datum.value == 0 ? 'Target' : (datum.value > 0 ? '+' : '') + datum.value + ' S.D.'"}},
           "color": {"field": "v", "type": "quantitative", "scale": {"type": "threshold", "domain": [-3, -2, 2.01, 3], "range": ["#ff0000", "#0000ff", "#000000", "#0000ff", "#ff0000"]}, "legend": null}
         },
         "layer": [
           {"transform": [{"filter": "datum.s == 'b'"}], "mark": {"type": "point", "shape": "square", "filled": false, "size": 30, "strokeWidth": 1, "opacity": 1}},
           {"transform": [{"filter": "datum.s == 'a'"}], "mark": {"type": "point", "shape": "circle", "filled": true, "size": 32, "opacity": 1}},
           {"transform": [{"filter": "datum.s == 'c'"}], "mark": {"type": "point", "shape": "square", "filled": true, "size": 40, "opacity": 1}}
         ]}
      ]
    },
    {
      "width": 909, "height": 200,
      "layer": [
        {"data": {"name": "levels"}, "mark": {"type": "rule", "strokeWidth": 1},
         "encoding": {"y": {"field": "sd", "type": "quantitative", "scale": {"domain": [-4, 4], "nice": false, "zero": false}, "axis": {"title": null, "values": [3, 2, 1, 0, -1, -2, -3], "labelExpr": "datum.value == 0 ? 'Target' : (datum.value > 0 ? '+' : '') + datum.value + ' S.D.'"}},
                      "stroke": {"field": "sd", "type": "ordinal", "scale": {"domain": [3, 2, 1, 0, -1, -2, -3], "range": ["#d00000", "#0000f0", "#808080", "#000000", "#808080", "#0000f0", "#d00000"]}, "legend": null}}},
        {"data": {"name": "qc"},
         "transform": [{"filter": "datum.p == 4"}, {"calculate": "(datum.i < 10 ? '0' : '') + datum.i + '|' + datum.d", "as": "k"}],
         "encoding": {
           "x": {"field": "k", "type": "nominal", "scale": {"type": "point", "padding": 0.4857, "align": 0.368}, "axis": {"title": "Date", "labelExpr": "split(datum.label, '|')[1]"}},
           "y": {"field": "v", "type": "quantitative", "scale": {"domain": [-4, 4], "nice": false, "zero": false}, "axis": {"title": null, "values": [3, 2, 1, 0, -1, -2, -3], "labelExpr": "datum.value == 0 ? 'Target' : (datum.value > 0 ? '+' : '') + datum.value + ' S.D.'"}},
           "color": {"field": "v", "type": "quantitative", "scale": {"type": "threshold", "domain": [-3, -2, 2.01, 3], "range": ["#ff0000", "#0000ff", "#000000", "#0000ff", "#ff0000"]}, "legend": null}
         },
         "layer": [
           {"transform": [{"filter": "datum.s == 'b'"}], "mark": {"type": "point", "shape": "square", "filled": false, "size": 30, "strokeWidth": 1, "opacity": 1}},
           {"transform": [{"filter": "datum.s == 'a'"}], "mark": {"type": "point", "shape": "circle", "filled": true, "size": 32, "opacity": 1}},
           {"transform": [{"filter": "datum.s == 'c'"}], "mark": {"type": "point", "shape": "square", "filled": true, "size": 40, "opacity": 1}}
         ]}
      ]
    },
    {
      "width": 909, "height": 200,
      "layer": [
        {"data": {"name": "levels"}, "mark": {"type": "rule", "strokeWidth": 1},
         "encoding": {"y": {"field": "sd", "type": "quantitative", "scale": {"domain": [-4, 4], "nice": false, "zero": false}, "axis": {"title": null, "values": [3, 2, 1, 0, -1, -2, -3], "labelExpr": "datum.value == 0 ? 'Target' : (datum.value > 0 ? '+' : '') + datum.value + ' S.D.'"}},
                      "stroke": {"field": "sd", "type": "ordinal", "scale": {"domain": [3, 2, 1, 0, -1, -2, -3], "range": ["#d00000", "#0000f0", "#808080", "#000000", "#808080", "#0000f0", "#d00000"]}, "legend": null}}},
        {"data": {"name": "qc"},
         "transform": [{"filter": "datum.p == 5"}, {"calculate": "(datum.i < 10 ? '0' : '') + datum.i + '|' + datum.d", "as": "k"}],
         "encoding": {
           "x": {"field": "k", "type": "nominal", "scale": {"type": "point", "padding": 0.4857, "align": 0.368}, "axis": {"title": "Date", "labelExpr": "split(datum.label, '|')[1]"}},
           "y": {"field": "v", "type": "quantitative", "scale": {"domain": [-4, 4], "nice": false, "zero": false}, "axis": {"title": null, "values": [3, 2, 1, 0, -1, -2, -3], "labelExpr": "datum.value == 0 ? 'Target' : (datum.value > 0 ? '+' : '') + datum.value + ' S.D.'"}},
           "color": {"field": "v", "type": "quantitative", "scale": {"type": "threshold", "domain": [-3, -2, 2.01, 3], "range": ["#ff0000", "#0000ff", "#000000", "#0000ff", "#ff0000"]}, "legend": null}
         },
         "layer": [
           {"transform": [{"filter": "datum.s == 'b'"}], "mark": {"type": "point", "shape": "square", "filled": false, "size": 30, "strokeWidth": 1, "opacity": 1}},
           {"transform": [{"filter": "datum.s == 'a'"}], "mark": {"type": "point", "shape": "circle", "filled": true, "size": 32, "opacity": 1}},
           {"transform": [{"filter": "datum.s == 'c'"}], "mark": {"type": "point", "shape": "square", "filled": true, "size": 40, "opacity": 1}}
         ]}
      ]
    },
    {
      "width": 909, "height": 200,
      "layer": [
        {"data": {"name": "levels"}, "mark": {"type": "rule", "strokeWidth": 1},
         "encoding": {"y": {"field": "sd", "type": "quantitative", "scale": {"domain": [-4, 4], "nice": false, "zero": false}, "axis": {"title": null, "values": [3, 2, 1, 0, -1, -2, -3], "labelExpr": "datum.value == 0 ? 'Target' : (datum.value > 0 ? '+' : '') + datum.value + ' S.D.'"}},
                      "stroke": {"field": "sd", "type": "ordinal", "scale": {"domain": [3, 2, 1, 0, -1, -2, -3], "range": ["#d00000", "#0000f0", "#808080", "#000000", "#808080", "#0000f0", "#d00000"]}, "legend": null}}},
        {"data": {"name": "qc"},
         "transform": [{"filter": "datum.p == 6"}, {"calculate": "(datum.i < 10 ? '0' : '') + datum.i + '|' + datum.d", "as": "k"}],
         "encoding": {
           "x": {"field": "k", "type": "nominal", "scale": {"type": "point", "padding": 0.4857, "align": 0.368}, "axis": {"title": "Date", "labelExpr": "split(datum.label, '|')[1]"}},
           "y": {"field": "v", "type": "quantitative", "scale": {"domain": [-4, 4], "nice": false, "zero": false}, "axis": {"title": null, "values": [3, 2, 1, 0, -1, -2, -3], "labelExpr": "datum.value == 0 ? 'Target' : (datum.value > 0 ? '+' : '') + datum.value + ' S.D.'"}},
           "color": {"field": "v", "type": "quantitative", "scale": {"type": "threshold", "domain": [-3, -2, 2.01, 3], "range": ["#ff0000", "#0000ff", "#000000", "#0000ff", "#ff0000"]}, "legend": null}
         },
         "layer": [
           {"transform": [{"filter": "datum.s == 'b'"}], "mark": {"type": "point", "shape": "square", "filled": false, "size": 30, "strokeWidth": 1, "opacity": 1}},
           {"transform": [{"filter": "datum.s == 'a'"}], "mark": {"type": "point", "shape": "circle", "filled": true, "size": 32, "opacity": 1}},
           {"transform": [{"filter": "datum.s == 'c'"}], "mark": {"type": "point", "shape": "square", "filled": true, "size": 40, "opacity": 1}}
         ]}
      ]
    },
    {
      "width": 909, "height": 200,
      "layer": [
        {"data": {"name": "levels"}, "mark": {"type": "rule", "strokeWidth": 1},
         "encoding": {"y": {"field": "sd", "type": "quantitative", "scale": {"domain": [-4, 4], "nice": false, "zero": false}, "axis": {"title": null, "values": [3, 2, 1, 0, -1, -2, -3], "labelExpr": "datum.value == 0 ? 'Target' : (datum.value > 0 ? '+' : '') + datum.value + ' S.D.'"}},
                      "stroke": {"field": "sd", "type": "ordinal", "scale": {"domain": [3, 2, 1, 0, -1, -2, -3], "range": ["#d00000", "#0000f0", "#808080", "#000000", "#808080", "#0000f0", "#d00000"]}, "legend": null}}},
        {"data": {"name": "qc"},
         "transform": [{"filter": "datum.p == 7"}, {"calculate": "(datum.i < 10 ? '0' : '') + datum.i + '|' + datum.d", "as": "k"}],
         "encoding": {
           "x": {"field": "k", "type": "nominal", "scale": {"type": "point", "padding": 0.4857, "align": 0.368}, "axis": {"title": "Date", "labelExpr": "split(datum.label, '|')[1]"}},
           "y": {"field": "v", "type": "quantitative", "scale": {"domain": [-4, 4], "nice": false, "zero": false}, "axis": {"title": null, "values": [3, 2, 1, 0, -1, -2, -3], "labelExpr": "datum.value == 0 ? 'Target' : (datum.value > 0 ? '+' : '') + datum.value + ' S.D.'"}},
           "color": {"field": "v", "type": "quantitative", "scale": {"type": "threshold", "domain": [-3, -2, 2.01, 3], "range": ["#ff0000", "#0000ff", "#000000", "#0000ff", "#ff0000"]}, "legend": null}
         },
         "layer": [
           {"transform": [{"filter": "datum.s == 'b'"}], "mark": {"type": "point", "shape": "square", "filled": false, "size": 30, "strokeWidth": 1, "opacity": 1}},
           {"transform": [{"filter": "datum.s == 'a'"}], "mark": {"type": "point", "shape": "circle", "filled": true, "size": 32, "opacity": 1}},
           {"transform": [{"filter": "datum.s == 'c'"}], "mark": {"type": "point", "shape": "square", "filled": true, "size": 40, "opacity": 1}}
         ]}
      ]
    },
    {
      "width": 909, "height": 200,
      "layer": [
        {"data": {"name": "levels"}, "mark": {"type": "rule", "strokeWidth": 1},
         "encoding": {"y": {"field": "sd", "type": "quantitative", "scale": {"domain": [-4, 4], "nice": false, "zero": false}, "axis": {"title": null, "values": [3, 2, 1, 0, -1, -2, -3], "labelExpr": "datum.value == 0 ? 'Target' : (datum.value > 0 ? '+' : '') + datum.value + ' S.D.'"}},
                      "stroke": {"field": "sd", "type": "ordinal", "scale": {"domain": [3, 2, 1, 0, -1, -2, -3], "range": ["#d00000", "#0000f0", "#808080", "#000000", "#808080", "#0000f0", "#d00000"]}, "legend": null}}},
        {"data": {"name": "qc"},
         "transform": [{"filter": "datum.p == 8"}, {"calculate": "(datum.i < 10 ? '0' : '') + datum.i + '|' + datum.d", "as": "k"}],
         "encoding": {
           "x": {"field": "k", "type": "nominal", "scale": {"type": "point", "padding": 0.4857, "align": 0.368}, "axis": {"title": "Date", "labelExpr": "split(datum.label, '|')[1]"}},
           "y": {"field": "v", "type": "quantitative", "scale": {"domain": [-4, 4], "nice": false, "zero": false}, "axis": {"title": null, "values": [3, 2, 1, 0, -1, -2, -3], "labelExpr": "datum.value == 0 ? 'Target' : (datum.value > 0 ? '+' : '') + datum.value + ' S.D.'"}},
           "color": {"field": "v", "type": "quantitative", "scale": {"type": "threshold", "domain": [-3, -2, 2.01, 3], "range": ["#ff0000", "#0000ff", "#000000", "#0000ff", "#ff0000"]}, "legend": null}
         },
         "layer": [
           {"transform": [{"filter": "datum.s == 'b'"}], "mark": {"type": "point", "shape": "square", "filled": false, "size": 30, "strokeWidth": 1, "opacity": 1}},
           {"transform": [{"filter": "datum.s == 'a'"}], "mark": {"type": "point", "shape": "circle", "filled": true, "size": 32, "opacity": 1}},
           {"transform": [{"filter": "datum.s == 'c'"}], "mark": {"type": "point", "shape": "square", "filled": true, "size": 40, "opacity": 1}}
         ]}
      ]
    },
    {
      "width": 909, "height": 200,
      "layer": [
        {"data": {"name": "levels"}, "mark": {"type": "rule", "strokeWidth": 1},
         "encoding": {"y": {"field": "sd", "type": "quantitative", "scale": {"domain": [-4, 4], "nice": false, "zero": false}, "axis": {"title": null, "values": [3, 2, 1, 0, -1, -2, -3], "labelExpr": "datum.value == 0 ? 'Target' : (datum.value > 0 ? '+' : '') + datum.value + ' S.D.'"}},
                      "stroke": {"field": "sd", "type": "ordinal", "scale": {"domain": [3, 2, 1, 0, -1, -2, -3], "range": ["#d00000", "#0000f0", "#808080", "#000000", "#808080", "#0000f0", "#d00000"]}, "legend": null}}},
        {"data": {"name": "qc"},
         "transform": [{"filter": "datum.p == 9"}, {"calculate": "(datum.i < 10 ? '0' : '') + datum.i + '|' + datum.d", "as": "k"}],
         "encoding": {
           "x": {"field": "k", "type": "nominal", "scale": {"type": "point", "padding": 0.4857, "align": 0.368}, "axis": {"title": "Date", "labelExpr": "split(datum.label, '|')[1]"}},
           "y": {"field": "v", "type": "quantitative", "scale": {"domain": [-4, 4], "nice": false, "zero": false}, "axis": {"title": null, "values": [3, 2, 1, 0, -1, -2, -3], "labelExpr": "datum.value == 0 ? 'Target' : (datum.value > 0 ? '+' : '') + datum.value + ' S.D.'"}},
           "color": {"field": "v", "type": "quantitative", "scale": {"type": "threshold", "domain": [-3, -2, 2.01, 3], "range": ["#ff0000", "#0000ff", "#000000", "#0000ff", "#ff0000"]}, "legend": null}
         },
         "layer": [
           {"transform": [{"filter": "datum.s == 'b'"}], "mark": {"type": "point", "shape": "square", "filled": false, "size": 30, "strokeWidth": 1, "opacity": 1}},
           {"transform": [{"filter": "datum.s == 'a'"}], "mark": {"type": "point", "shape": "circle", "filled": true, "size": 32, "opacity": 1}},
           {"transform": [{"filter": "datum.s == 'c'"}], "mark": {"type": "point", "shape": "square", "filled": true, "size": 40, "opacity": 1}}
         ]}
      ]
    },
    {
      "width": 909, "height": 200,
      "layer": [
        {"data": {"name": "levels"}, "mark": {"type": "rule", "strokeWidth": 1},
         "encoding": {"y": {"field": "sd", "type": "quantitative", "scale": {"domain": [-4, 4], "nice": false, "zero": false}, "axis": {"title": null, "values": [3, 2, 1, 0, -1, -2, -3], "labelExpr": "datum.value == 0 ? 'Target' : (datum.value > 0 ? '+' : '') + datum.value + ' S.D.'"}},
                      "stroke": {"field": "sd", "type": "ordinal", "scale": {"domain": [3, 2, 1, 0, -1, -2, -3], "range": ["#d00000", "#0000f0", "#808080", "#000000", "#808080", "#0000f0", "#d00000"]}, "legend": null}}},
        {"data": {"name": "qc"},
         "transform": [{"filter": "datum.p == 10"}, {"calculate": "(datum.i < 10 ? '0' : '') + datum.i + '|' + datum.d", "as": "k"}],
         "encoding": {
           "x": {"field": "k", "type": "nominal", "scale": {"type": "point", "padding": 0.4857, "align": 0.368}, "axis": {"title": "Date", "labelExpr": "split(datum.label, '|')[1]"}},
           "y": {"field": "v", "type": "quantitative", "scale": {"domain": [-4, 4], "nice": false, "zero": false}, "axis": {"title": null, "values": [3, 2, 1, 0, -1, -2, -3], "labelExpr": "datum.value == 0 ? 'Target' : (datum.value > 0 ? '+' : '') + datum.value + ' S.D.'"}},
           "color": {"field": "v", "type": "quantitative", "scale": {"type": "threshold", "domain": [-3, -2, 2.01, 3], "range": ["#ff0000", "#0000ff", "#000000", "#0000ff", "#ff0000"]}, "legend": null}
         },
         "layer": [
           {"transform": [{"filter": "datum.s == 'b'"}], "mark": {"type": "point", "shape": "square", "filled": false, "size": 30, "strokeWidth": 1, "opacity": 1}},
           {"transform": [{"filter": "datum.s == 'a'"}], "mark": {"type": "point", "shape": "circle", "filled": true, "size": 32, "opacity": 1}},
           {"transform": [{"filter": "datum.s == 'c'"}], "mark": {"type": "point", "shape": "square", "filled": true, "size": 40, "opacity": 1}}
         ]}
      ]
    },
    {
      "width": 909, "height": 200,
      "layer": [
        {"data": {"name": "levels"}, "mark": {"type": "rule", "strokeWidth": 1},
         "encoding": {"y": {"field": "sd", "type": "quantitative", "scale": {"domain": [-4, 4], "nice": false, "zero": false}, "axis": {"title": null, "values": [3, 2, 1, 0, -1, -2, -3], "labelExpr": "datum.value == 0 ? 'Target' : (datum.value > 0 ? '+' : '') + datum.value + ' S.D.'"}},
                      "stroke": {"field": "sd", "type": "ordinal", "scale": {"domain": [3, 2, 1, 0, -1, -2, -3], "range": ["#d00000", "#0000f0", "#808080", "#000000", "#808080", "#0000f0", "#d00000"]}, "legend": null}}},
        {"data": {"name": "qc"},
         "transform": [{"filter": "datum.p == 11"}, {"calculate": "(datum.i < 10 ? '0' : '') + datum.i + '|' + datum.d", "as": "k"}],
         "encoding": {
           "x": {"field": "k", "type": "nominal", "scale": {"type": "point", "padding": 0, "range": [12.5, 152.5]}, "axis": {"title": "Date", "labelExpr": "split(datum.label, '|')[1]"}},
           "y": {"field": "v", "type": "quantitative", "scale": {"domain": [-4, 4], "nice": false, "zero": false}, "axis": {"title": null, "values": [3, 2, 1, 0, -1, -2, -3], "labelExpr": "datum.value == 0 ? 'Target' : (datum.value > 0 ? '+' : '') + datum.value + ' S.D.'"}},
           "color": {"field": "v", "type": "quantitative", "scale": {"type": "threshold", "domain": [-3, -2, 2.01, 3], "range": ["#ff0000", "#0000ff", "#000000", "#0000ff", "#ff0000"]}, "legend": null}
         },
         "layer": [
           {"transform": [{"filter": "datum.s == 'b'"}], "mark": {"type": "point", "shape": "square", "filled": false, "size": 30, "strokeWidth": 1, "opacity": 1}},
           {"transform": [{"filter": "datum.s == 'a'"}], "mark": {"type": "point", "shape": "circle", "filled": true, "size": 32, "opacity": 1}},
           {"transform": [{"filter": "datum.s == 'c'"}], "mark": {"type": "point", "shape": "square", "filled": true, "size": 40, "opacity": 1}}
         ]}
      ]
    }
  ]
}
